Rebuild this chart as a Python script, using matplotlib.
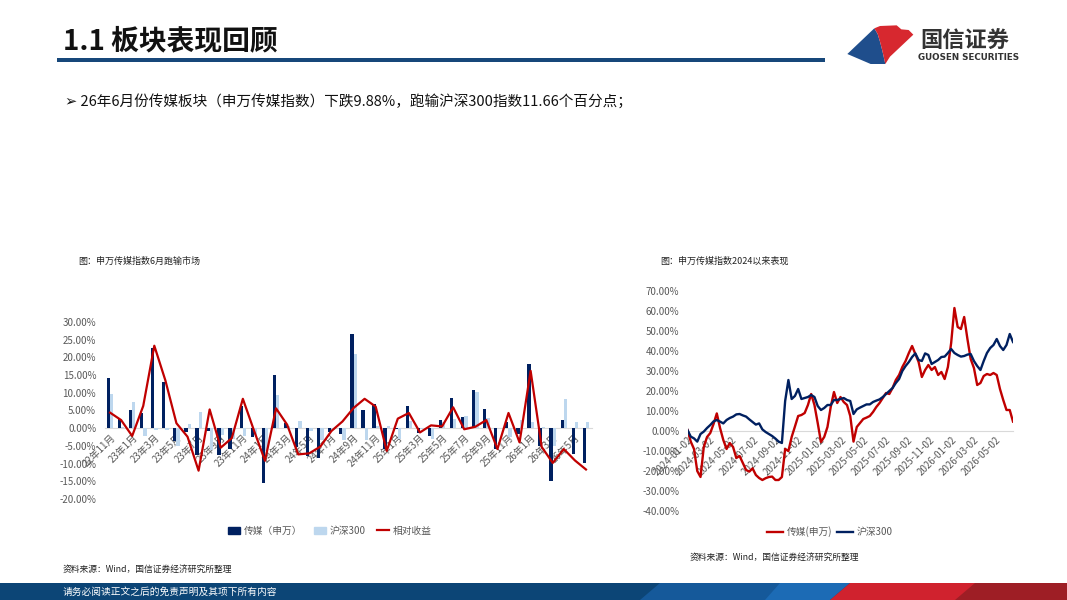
import numpy as np
import pandas as pd
import matplotlib
matplotlib.use("Agg")
import matplotlib.pyplot as plt
from matplotlib.patches import Polygon, Rectangle
from matplotlib.lines import Line2D
from matplotlib.ticker import FuncFormatter

plt.rcParams['font.family'] = ['Noto Sans CJK SC', 'DejaVu Sans']

# ---------------- data: left chart (monthly returns, %) ----------------
months = ['22年11月', '22年12月', '23年1月', '23年2月', '23年3月', '23年4月', '23年5月', '23年6月',
          '23年7月', '23年8月', '23年9月', '23年10月', '23年11月', '23年12月', '24年1月', '24年2月',
          '24年3月', '24年4月', '24年5月', '24年6月', '24年7月', '24年8月', '24年9月', '24年10月',
          '24年11月', '24年12月', '25年1月', '25年2月', '25年3月', '25年4月', '25年5月', '25年6月',
          '25年7月', '25年8月', '25年9月', '25年10月', '25年11月', '25年12月', '26年1月', '26年2月',
          '26年3月', '26年4月', '26年5月', '26年6月']
media = [14.2, 2.5, 5.1, 4.2, 22.7, 13.0, -3.6, -1.2, -7.5, -0.9, -7.5, -5.9, 6.2, -2.5, -15.5, 14.9,
         1.6, -5.4, -7.8, -8.5, -1.2, -1.5, 26.7, 5.1, 6.7, -5.9, -0.3, 6.2, -1.3, -2.2, 2.3, 8.4,
         3.2, 10.7, 5.3, -5.9, 1.8, -1.7, 18.0, -5.0, -14.8, 2.3, -7.3, -9.88]
hs300 = [9.8, 0.2, 7.3, -2.1, -0.6, -0.5, -5.0, 1.2, 4.5, -6.2, -2.0, -3.1, -2.1, -1.9, -6.3, 9.3,
         0.6, 2.0, -0.7, -3.3, -0.4, -3.4, 21.0, -3.2, 0.6, 0.5, -3.0, 1.9, -0.1, -3.0, 1.8, 2.5,
         3.5, 10.3, 3.0, 0.0, -2.5, 2.3, 1.8, 0.3, -5.0, 8.2, 1.8, 1.78]
relative = [4.4, 2.3, -2.2, 6.3, 23.3, 13.5, 1.4, -2.4, -12.0, 5.3, -5.5, -2.8, 8.3, -0.6, -9.2, 5.6,
            1.0, -7.4, -7.1, -5.2, -0.8, 1.9, 5.7, 8.3, 6.1, -6.4, 2.7, 4.3, -1.2, 0.8, 0.5, 5.9,
            -0.3, 0.4, 2.3, -5.9, 4.3, -4.0, 16.2, -5.3, -9.8, -5.9, -9.1, -11.66]
left_ticks = list(range(0, 44, 2))

# ---------------- data: right chart (cumulative since 2024, %) ----------------
dates = pd.date_range('2024-01-02', periods=101, freq='9D')
media_cum = [0.5, -5.3, -9, -20, -23, -8, -3, -1, 3.5, 8.8, 1.5, -4.5, -9, -6, -8, -13.5,
             -12.5, -16, -19.5, -20.3, -18.7, -22, -23.5, -24.5, -23.6, -23, -22.8, -24.5, -24.5, -23,
             -9, -10, -3, 2.2, 7.5, 8, 9, 13, 18.5, 13, 4, -5.5, -3, 2, 12, 19.5,
             14, 17, 14.5, 13, 7.5, -5.3, 2, 4, 6, 6.7, 7.5, 9.5, 12, 14, 16.5, 19,
             18.5, 21.5, 25.5, 28, 32, 35, 39, 42.5, 38.5, 34.5, 27, 30.5, 33, 30.5, 32, 28,
             29.5, 26, 32, 44, 61.5, 52, 51, 57, 46, 36, 31.5, 23, 24, 27.5, 28.5, 28,
             29, 28, 21, 15.5, 10.5, 10.5, 4.7]
hs300_cum = [0.5, -2.8, -3.7, -5.3, -1.5, -0.3, 1.5, 3.0, 4.8, 5.5, 4.7, 3.8, 5.5, 6.5, 7.2, 8.3,
             8.5, 7.8, 7.2, 5.8, 4.5, 3.2, 3.8, 0.8, -0.5, -1.5, -2.5, -3.8, -5.3, -6.0,
             15, 25.5, 16, 17.5, 21, 16, 16.5, 17, 18, 17, 12.5, 10.5, 11.5, 13, 13, 15.5,
             15.5, 16, 16.5, 15.5, 15, 8.5, 10.8, 11.7, 12.5, 13.3, 13.3, 14.5, 15.2, 15.8, 17, 18.5,
             20, 21.5, 24, 26, 30, 32.5, 34.5, 37, 38.8, 35.5, 35, 38.8, 38, 33.5, 34.5, 35.5,
             37, 37.2, 39, 41, 39, 38, 37.2, 37.5, 38.2, 38.5, 35, 32.5, 30.5, 35, 39, 41.5,
             43, 46, 42.5, 40.5, 43, 48.5, 44.5]
right_tick_labels = ['2024-01-02', '2024-03-02', '2024-05-02', '2024-07-02', '2024-09-02',
                     '2024-11-02', '2025-01-02', '2025-03-02', '2025-05-02', '2025-07-02',
                     '2025-09-02', '2025-11-02', '2026-01-02', '2026-03-02', '2026-05-02']

NAVY = '#002060'
LIGHT = '#BDD7EE'
RED = '#C00000'
GRAY = '#595959'

W, H = 1067, 600
fig = plt.figure(figsize=(W / 100, H / 100), dpi=100)

# ---------------- background / slide decoration ----------------
bg = fig.add_axes([0, 0, 1, 1], zorder=0)
bg.set_xlim(0, W)
bg.set_ylim(H, 0)
bg.axis('off')

bg.text(63, 41, '1.1 板块表现回顾', fontsize=20, fontweight='bold', color='#111111',
        va='center', ha='left')
bg.add_patch(Rectangle((57, 58.3), 768, 3.4, color='#17477A', lw=0))

# logo
def lp(pts):
    return [(830 + x / 3, 10 + y / 3) for x, y in pts]
bg.add_patch(Polygon(lp([(52, 132), (133, 55), (143, 72), (150, 95), (157, 122), (166, 162), (122, 162)]),
                     closed=True, color='#1F4E8C', lw=0))
bg.add_patch(Polygon(lp([(133, 55), (150, 48), (200, 46), (214, 58), (236, 60), (250, 74), (180, 140),
                         (166, 162), (157, 122), (150, 95), (143, 72)]),
                     closed=True, color='#D7282F', lw=0))
bg.text(920, 41, '国信证券', fontsize=16, color='#333333', va='center', ha='left', fontweight='bold')
bg.text(968.5, 58, 'GUOSEN SECURITIES', fontsize=6.3, color='#333333', va='center', ha='center',
        fontweight='bold', family=['DejaVu Sans'])

bg.text(65, 101, '➢ 26年6月份传媒板块（申万传媒指数）下跌9.88%，跑输沪深300指数11.66个百分点；',
        fontsize=10.5, color='#111111', va='center', ha='left',
        family=['Noto Sans CJK SC', 'DejaVu Sans'])

bg.text(78, 261, '图：申万传媒指数6月跑输市场', fontsize=6.5, color='#222222', va='center', ha='left')
bg.text(660, 261, '图：申万传媒指数2024以来表现', fontsize=6.5, color='#222222', va='center', ha='left')
bg.text(63, 569, '资料来源：Wind，国信证券经济研究所整理', fontsize=6.3, color='#222222', va='center', ha='left')
bg.text(690, 557, '资料来源：Wind，国信证券经济研究所整理', fontsize=6.3, color='#222222', va='center', ha='left')

# footer band
bg.add_patch(Rectangle((0, 583), W, 17, color='#0C4576', lw=0))
bg.add_patch(Polygon([(660, 583), (840, 583), (825, 600), (640, 600)], closed=True, color='#15599A', lw=0))
bg.add_patch(Polygon([(780, 583), (850, 583), (830, 600), (765, 600)], closed=True, color='#1C6BB5', lw=0))
bg.add_patch(Polygon([(850, 583), (W, 583), (W, 600), (830, 600)], closed=True, color='#D0222E', lw=0))
bg.add_patch(Polygon([(975, 583), (W, 583), (W, 600), (955, 600)], closed=True, color='#9E1E25', lw=0))
bg.text(63, 591.5, '请务必阅读正文之后的免责声明及其项下所有内容', fontsize=7, color='white',
        va='center', ha='left')


def style_axis(ax):
    for s in ['top', 'right', 'left']:
        ax.spines[s].set_visible(False)
    ax.spines['bottom'].set_position(('data', 0))
    ax.spines['bottom'].set_color('#D9D9D9')
    ax.spines['bottom'].set_zorder(1)
    ax.tick_params(axis='both', length=0, labelsize=7, labelcolor=GRAY)
    ax.tick_params(axis='x', pad=3)
    ax.tick_params(axis='y', pad=6)
    ax.yaxis.set_major_formatter(FuncFormatter(lambda v, p: f'{v:.2f}%'))


# ---------------- left chart ----------------
axL = fig.add_axes([104.5 / W, 1 - 499 / H, 487 / W, 177 / H], zorder=2)
axL.patch.set_alpha(0)
style_axis(axL)
x = np.arange(len(months))
axL.bar(x - 0.15, media, 0.3, color=NAVY, lw=0, zorder=2)
axL.bar(x + 0.15, hs300, 0.3, color=LIGHT, lw=0, zorder=2)
axL.plot(x, relative, color=RED, lw=1.6, zorder=3)
axL.set_xlim(-0.5, len(months) - 0.5)
axL.set_ylim(-20, 30)
axL.set_yticks(np.arange(-20, 31, 5))
axL.set_xticks(left_ticks)
axL.set_xticklabels([months[i] for i in left_ticks], rotation=45, ha='right',
                    rotation_mode='anchor', fontsize=7, color=GRAY)

handlesL = [Rectangle((0, 0), 1, 1, color=NAVY), Rectangle((0, 0), 1, 1, color=LIGHT),
            Line2D([], [], color=RED, lw=1.6)]
fig.legend(handlesL, ['传媒（申万）', '沪深300', '相对收益'], loc='center',
           bbox_to_anchor=(330 / W, 1 - 531 / H), ncol=3, frameon=False, fontsize=7,
           handlelength=1.2, handleheight=0.8, columnspacing=1.2, handletextpad=0.4,
           labelcolor=GRAY)

# ---------------- right chart ----------------
axR = fig.add_axes([687.5 / W, 1 - 511 / H, 325.5 / W, 220 / H], zorder=2)
axR.patch.set_alpha(0)
style_axis(axR)
axR.plot(dates, media_cum, color=RED, lw=1.7, zorder=3)
axR.plot(dates, hs300_cum, color=NAVY, lw=1.7, zorder=3)
axR.set_xlim(dates[0], dates[-1])
axR.set_ylim(-40, 70)
axR.set_yticks(np.arange(-40, 71, 10))
axR.set_xticks(pd.to_datetime(right_tick_labels))
axR.set_xticklabels(right_tick_labels, rotation=45, ha='right', rotation_mode='anchor',
                    fontsize=7, color=GRAY)

handlesR = [Line2D([], [], color=RED, lw=1.7), Line2D([], [], color=NAVY, lw=1.7)]
fig.legend(handlesR, ['传媒(申万)', '沪深300'], loc='center',
           bbox_to_anchor=(830 / W, 1 - 532 / H), ncol=2, frameon=False, fontsize=7,
           handlelength=1.6, columnspacing=0.5, handletextpad=0.4, labelcolor=GRAY)

fig.savefig('out.png', dpi=100)
